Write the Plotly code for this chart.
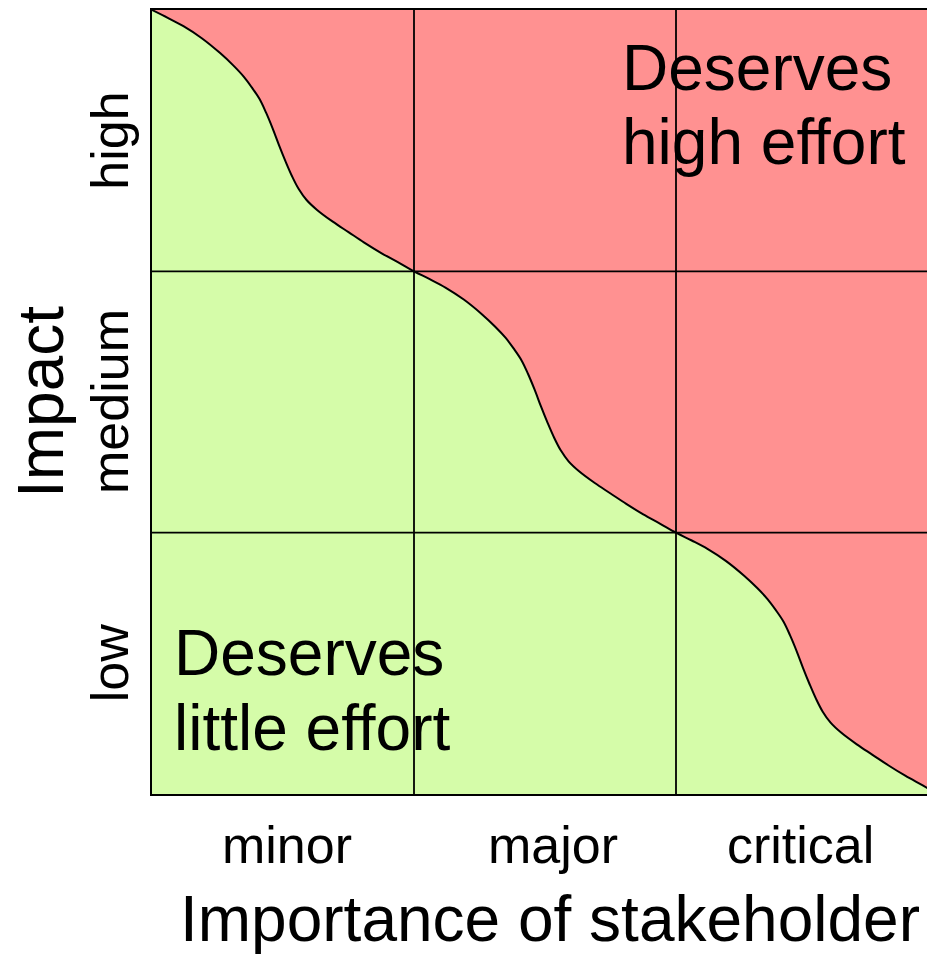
import plotly.graph_objects as go

# ---- data ----
importance_levels = ["minor", "major", "critical"]   # x categories
impact_levels = ["low", "medium", "high"]            # y categories (bottom -> top)
x_title = "Importance of stakeholder"
y_title = "Impact"
high_label = ["Deserves", "high effort"]
low_label = ["Deserves", "little effort"]

# boundary profile inside one diagonal cell (u: fraction across, v: fraction down)
profile_u = [0, 0.06, 0.12, 0.19, 0.26, 0.31, 0.35, 0.38, 0.41, 0.435, 0.46, 0.485,
             0.51, 0.535, 0.56, 0.59, 0.63, 0.69, 0.75, 0.81, 0.875, 0.94, 1.0]
profile_v = [0, 0.03, 0.062, 0.108, 0.165, 0.212, 0.255, 0.295, 0.34, 0.392, 0.452, 0.518,
             0.58, 0.637, 0.685, 0.727, 0.765, 0.81, 0.85, 0.89, 0.93, 0.966, 1.0]

RED = "#FF9191"
GREEN = "#D5FCA9"
FONT = "Liberation Sans, Arial, Helvetica, sans-serif"

n = len(importance_levels)

# build boundary curve through the diagonal cells
bx, by = [], []
for k in range(n):
    for j, (u, v) in enumerate(zip(profile_u, profile_v)):
        if k > 0 and j == 0:
            continue
        bx.append(k + u)
        by.append(n - k - v)

fig = go.Figure()

fig.add_trace(go.Scatter(
    x=bx, y=by, mode="lines",
    line=dict(color="black", width=2, shape="spline", smoothing=1.0),
    fill="tozeroy", fillcolor=GREEN, hoverinfo="skip", showlegend=False))

# inner grid lines
gx, gy = [], []
for i in range(1, n):
    gx += [i, i, None, 0, n, None]
    gy += [0, n, None, i, i, None]
fig.add_trace(go.Scatter(x=gx, y=gy, mode="lines", line=dict(color="black", width=1.8),
                         hoverinfo="skip", showlegend=False))

# plot geometry (pixels)
W, H = 927, 954
L, T, B = 152, 10, 160
plot_w = W - L
plot_h = H - T - B
cell_px = 262

fig.update_layout(
    width=W, height=H,
    margin=dict(l=L, r=0, t=T, b=B, pad=0),
    paper_bgcolor="white", plot_bgcolor=RED,
    showlegend=False,
    xaxis=dict(range=[0, plot_w / cell_px], showgrid=False, zeroline=False,
               showticklabels=False, ticks="", showline=True, mirror=True,
               linecolor="black", linewidth=2, fixedrange=True),
    yaxis=dict(range=[0, n], showgrid=False, zeroline=False,
               showticklabels=False, ticks="", showline=True, mirror=False,
               linecolor="black", linewidth=2, fixedrange=True),
)

def px_x(p):
    return (p - L) / plot_w

def px_y(p):
    return (T + plot_h - p) / plot_h

ann = []
# y tick labels (rotated)
for i, lab in enumerate(impact_levels):
    ann.append(dict(text=lab, xref="paper", x=0, xshift=-42, xanchor="center",
                    yref="y", y=i + 0.5, yanchor="middle", textangle=-90,
                    showarrow=False, font=dict(size=52, color="black", family=FONT)))
# x tick labels (slight per-label nudges as in the reference)
x_label_shift = [4, 8, -7]
for i, lab in enumerate(importance_levels):
    ann.append(dict(text=lab, xref="x", x=i + 0.5, xanchor="center",
                    xshift=x_label_shift[i],
                    yref="paper", y=0, yshift=-51, yanchor="middle",
                    showarrow=False, font=dict(size=52, color="black", family=FONT)))
# axis titles
ann.append(dict(text=y_title, xref="paper", x=0, xshift=-111, xanchor="center",
                yref="paper", y=0.5, yanchor="middle", textangle=-90,
                showarrow=False, font=dict(size=64, color="black", family=FONT)))
ann.append(dict(text=x_title, xref="paper", x=px_x(550), xanchor="center",
                yref="paper", y=0, yshift=-125, yanchor="middle",
                showarrow=False, font=dict(size=64, color="black", family=FONT)))
# region labels
for line, yp in zip(high_label, [68, 142]):
    ann.append(dict(text=line, xref="paper", x=px_x(620), xanchor="left",
                    yref="paper", y=px_y(yp), yanchor="middle",
                    showarrow=False, font=dict(size=64, color="black", family=FONT)))
for line, yp in zip(low_label, [653, 728]):
    ann.append(dict(text=line, xref="paper", x=px_x(172), xanchor="left",
                    yref="paper", y=px_y(yp), yanchor="middle",
                    showarrow=False, font=dict(size=64, color="black", family=FONT)))

fig.update_layout(annotations=ann)
fig.write_html(
    "out.html",
    config={"displayModeBar": False},
    post_script="document.body.style.margin='0';document.body.style.overflow='hidden';",
)
